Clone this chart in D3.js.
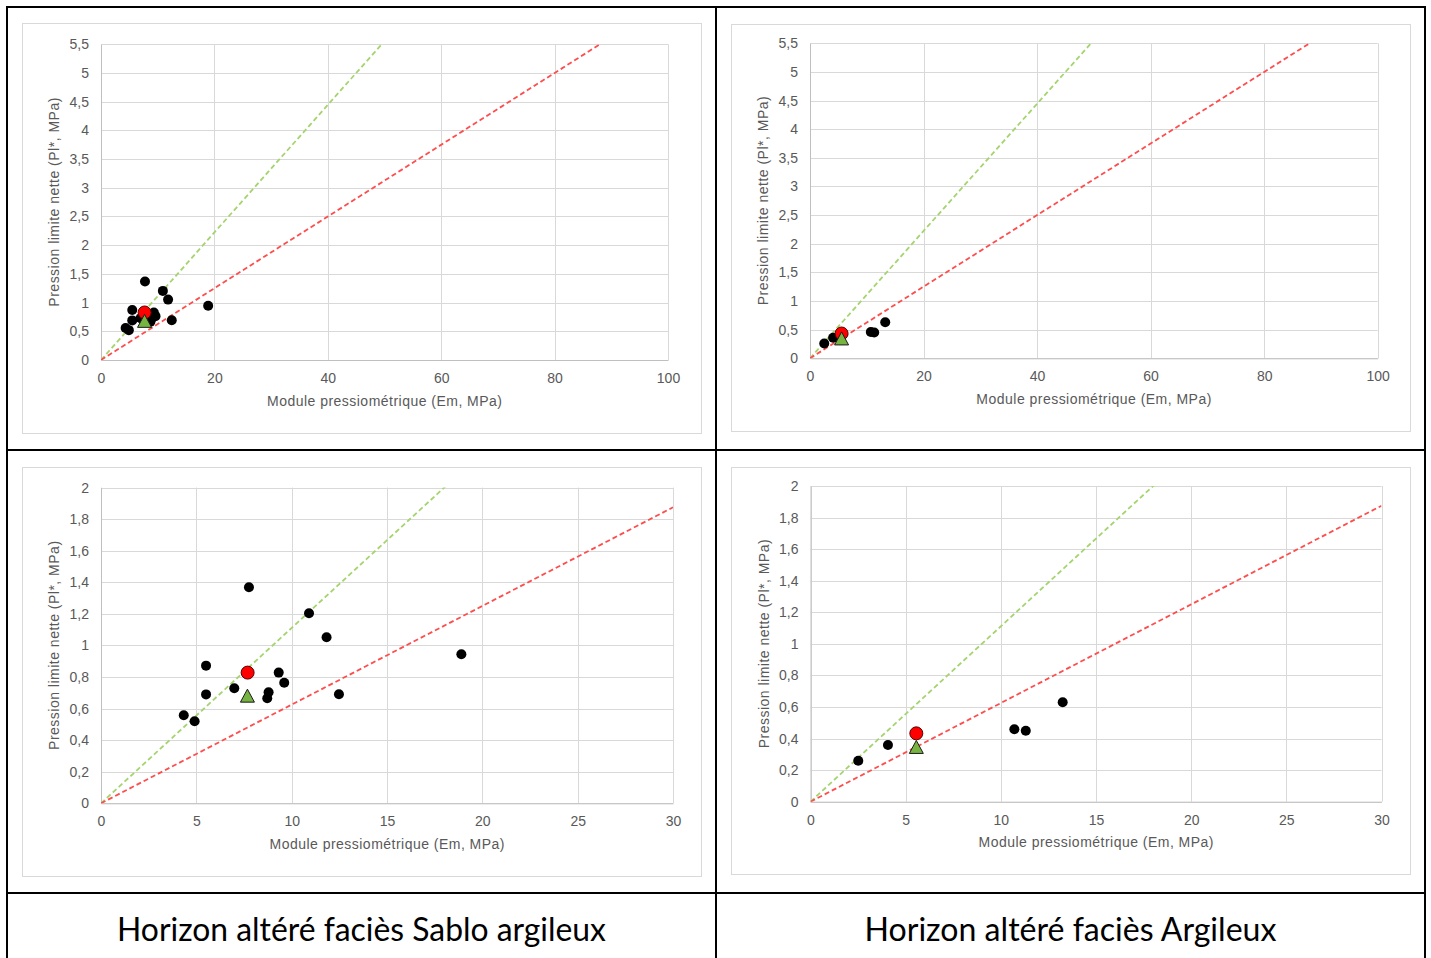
<!DOCTYPE html>
<html><head><meta charset="utf-8">
<script src="https://cdn.jsdelivr.net/npm/d3@7"></script>
<style>body{margin:0;background:#fff}svg{display:block}</style>
</head><body><svg id="c" width="1431" height="958"></svg>
<script>
// ---- data ----
const sabloEm = [4.34, 4.91, 5.51, 5.51, 6.99, 7.76, 8.79, 8.72, 9.32, 9.61, 10.91, 11.83, 12.48, 18.9];
const sabloPl = [0.558, 0.52, 0.872, 0.69, 0.729, 1.369, 0.703, 0.665, 0.828, 0.764, 1.204, 1.052, 0.691, 0.944];
const sabloCircleEm = [7.69];
const sabloCirclePl = [0.828];
const sabloTriangleEm = [7.68];
const sabloTrianglePl = [0.682];

const argEm = [2.51, 4.07, 10.71, 11.31, 13.25];
const argPl = [0.259, 0.359, 0.459, 0.45, 0.63];
const argCircleEm = [5.56];
const argCirclePl = [0.433];
const argTriangleEm = [5.56];
const argTrianglePl = [0.347];

const ratioGreen = 9;   // Em / Pl* = 9
const ratioRed = 16;    // Em / Pl* = 16

const xTicksWide = [0, 20, 40, 60, 80, 100];
const yTicksWide = [0, 0.5, 1, 1.5, 2, 2.5, 3, 3.5, 4, 4.5, 5, 5.5];
const xTicksZoom = [0, 5, 10, 15, 20, 25, 30];
const yTicksZoom = [0, 0.2, 0.4, 0.6, 0.8, 1, 1.2, 1.4, 1.6, 1.8, 2];

const xTitle = "Module pressiométrique (Em, MPa)";
const yTitle = "Pression limite  nette (Pl*, MPa)";
const captions = ["Horizon altéré faciès Sablo argileux", "Horizon altéré faciès Argileux"];

// ---- layout ----
const sets = {
  sablo: {em: sabloEm, pl: sabloPl, cEm: sabloCircleEm, cPl: sabloCirclePl, tEm: sabloTriangleEm, tPl: sabloTrianglePl},
  arg: {em: argEm, pl: argPl, cEm: argCircleEm, cPl: argCirclePl, tEm: argTriangleEm, tPl: argTrianglePl}
};
const panels = [
  {frame: [22, 23, 701, 433], plot: [101, 44.3, 668, 360], xt: xTicksWide, yt: yTicksWide, d: sets.sablo},
  {frame: [731, 24, 1410, 431], plot: [810, 43.3, 1377.7, 358.3], xt: xTicksWide, yt: yTicksWide, d: sets.arg},
  {frame: [22, 467, 701, 876], plot: [101, 487.6, 673, 803.3], xt: xTicksZoom, yt: yTicksZoom, d: sets.sablo},
  {frame: [731, 467, 1410, 874], plot: [810.5, 486, 1381.5, 801.7], xt: xTicksZoom, yt: yTicksZoom, d: sets.arg}
];

const svg = d3.select("#c");
const fmt = v => String(v).replace(".", ",");
const crisp = v => Math.round(v) + 0.5;
const FONT = "'Liberation Sans', Arial, sans-serif";

panels.forEach((p, i) => {
  const [fx0, fy0, fx1, fy1] = p.frame;
  const [px0, py0, px1, py1] = p.plot;
  const g = svg.append("g");
  g.append("rect").attr("x", fx0 + 0.5).attr("y", fy0 + 0.5)
    .attr("width", fx1 - fx0).attr("height", fy1 - fy0)
    .attr("fill", "#fff").attr("stroke", "#d9d9d9").attr("stroke-width", 1);

  const x = d3.scaleLinear().domain([p.xt[0], p.xt[p.xt.length - 1]]).range([px0, px1]);
  const y = d3.scaleLinear().domain([p.yt[0], p.yt[p.yt.length - 1]]).range([py1, py0]);

  // gridlines
  g.append("g").selectAll("line").data(p.yt).join("line")
    .attr("x1", px0).attr("x2", px1)
    .attr("y1", d => crisp(y(d))).attr("y2", d => crisp(y(d)))
    .attr("stroke", "#d9d9d9").attr("stroke-width", 1);
  g.append("g").selectAll("line").data(p.xt).join("line")
    .attr("y1", py0).attr("y2", py1)
    .attr("x1", d => crisp(x(d))).attr("x2", d => crisp(x(d)))
    .attr("stroke", "#d9d9d9").attr("stroke-width", 1);

  // axes (labels only)
  const xa = g.append("g").attr("transform", `translate(0,${py1})`)
    .call(d3.axisBottom(x).tickValues(p.xt).tickFormat(fmt).tickSize(0).tickPadding(0));
  xa.select(".domain").attr("stroke", "#bfbfbf");
  xa.selectAll("text").attr("dy", null).attr("y", 23).attr("fill", "#595959")
    .attr("font-family", FONT).attr("font-size", 14);
  const ya = g.append("g").attr("transform", `translate(${px0},0)`)
    .call(d3.axisLeft(y).tickValues(p.yt).tickFormat(fmt).tickSize(0).tickPadding(12));
  ya.select(".domain").attr("stroke", "#bfbfbf");
  ya.selectAll("text").attr("fill", "#595959").attr("font-family", FONT).attr("font-size", 14);

  // axis titles
  g.append("text").text(xTitle)
    .attr("x", (px0 + px1) / 2).attr("y", py1 + 45.5)
    .attr("text-anchor", "middle").attr("fill", "#595959")
    .attr("font-family", FONT).attr("font-size", 14)
    .attr("textLength", 235).attr("lengthAdjust", "spacing");
  g.append("text").text(yTitle)
    .attr("transform", `translate(${px0 - 42},${(py0 + py1) / 2}) rotate(-90)`)
    .attr("text-anchor", "middle").attr("fill", "#595959")
    .attr("font-family", FONT).attr("font-size", 14)
    .attr("textLength", 209).attr("lengthAdjust", "spacing");

  // ratio lines, clipped to plot
  const cid = "clip" + i;
  svg.append("clipPath").attr("id", cid).append("rect")
    .attr("x", px0).attr("y", py0).attr("width", px1 - px0).attr("height", py1 - py0);
  const lg = g.append("g").attr("clip-path", `url(#${cid})`);
  const xmax = x.domain()[1];
  [[ratioGreen, "#a5d46f"], [ratioRed, "#ff4d4d"]].forEach(([r, c]) => {
    lg.append("line")
      .attr("x1", x(0)).attr("y1", y(0))
      .attr("x2", x(xmax)).attr("y2", y(xmax / r))
      .attr("stroke", c).attr("stroke-width", 1.8).attr("stroke-dasharray", "5,3");
  });

  // black points
  const d = p.d;
  g.append("g").selectAll("circle").data(d.em.map((e, k) => [e, d.pl[k]])).join("circle")
    .attr("cx", v => x(v[0])).attr("cy", v => y(v[1])).attr("r", 5)
    .attr("fill", "#000");
  // red circle
  g.append("g").selectAll("circle").data(d.cEm.map((e, k) => [e, d.cPl[k]])).join("circle")
    .attr("cx", v => x(v[0])).attr("cy", v => y(v[1])).attr("r", 6.5)
    .attr("fill", "#ff0000").attr("stroke", "#5a0000").attr("stroke-width", 1);
  // green triangle
  g.append("g").selectAll("path").data(d.tEm.map((e, k) => [e, d.tPl[k]])).join("path")
    .attr("d", v => {
      const cx = x(v[0]), cy = y(v[1]), w = 7, h = 6.5;
      return `M${cx},${cy - h}L${cx + w},${cy + h}L${cx - w},${cy + h}Z`;
    })
    .attr("fill", "#77b341").attr("stroke", "#1a1a1a").attr("stroke-width", 1);
});

// table borders
const tb = svg.append("g").attr("stroke", "#000").attr("stroke-width", 2);
[7, 716, 1425].forEach(v => tb.append("line").attr("x1", v).attr("x2", v).attr("y1", 6).attr("y2", 958));
[7, 450, 893].forEach(v => tb.append("line").attr("y1", v).attr("y2", v).attr("x1", 6).attr("x2", 1426));

// captions
const capW = [489, 412];
captions.forEach((t, i) => {
  const tx = svg.append("text").text(t)
    .attr("x", i === 0 ? 361.5 : 1070.5).attr("y", 941)
    .attr("text-anchor", "middle").attr("fill", "#000")
    .attr("font-family", "Lato, sans-serif").attr("font-size", 30);
  const w = tx.node().getComputedTextLength();
  tx.attr("font-size", 30 * capW[i] / w);
});
</script></body></html>
